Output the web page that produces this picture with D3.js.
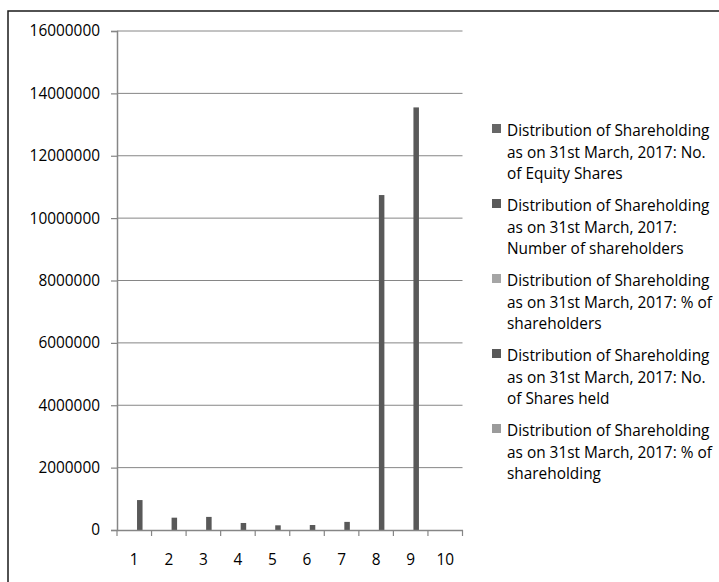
<!DOCTYPE html>
<html>
<head>
<meta charset="utf-8">
<script src="https://cdn.jsdelivr.net/npm/d3@7"></script>
<style>
  html, body { margin: 0; padding: 0; background: #ffffff; }
  svg { display: block; }
  text { font-family: "Open Sans", "Noto Sans", sans-serif; fill: #000; }
</style>
</head>
<body>
<svg id="chart" width="719" height="582"></svg>
<script>
// ---- data ----
const categories = ["1", "2", "3", "4", "5", "6", "7", "8", "9", "10"];
const seriesNames = [
  "Distribution of Shareholding as on 31st March, 2017: No. of Equity Shares",
  "Distribution of Shareholding as on 31st March, 2017: Number of shareholders",
  "Distribution of Shareholding as on 31st March, 2017: % of shareholders",
  "Distribution of Shareholding as on 31st March, 2017: No. of Shares held",
  "Distribution of Shareholding as on 31st March, 2017: % of shareholding"
];
const legendLines = [
  ["Distribution of Shareholding", "as on 31st March, 2017: No.", "of Equity Shares"],
  ["Distribution of Shareholding", "as on 31st March, 2017:", "Number of shareholders"],
  ["Distribution of Shareholding", "as on 31st March, 2017: % of", "shareholders"],
  ["Distribution of Shareholding", "as on 31st March, 2017: No.", "of Shares held"],
  ["Distribution of Shareholding", "as on 31st March, 2017: % of", "shareholding"]
];
const equityShares      = [0, 0, 0, 0, 0, 0, 0, 0, 0, 0];
const numShareholders   = [0, 0, 0, 0, 0, 0, 0, 0, 0, 0];
const pctShareholders   = [0, 0, 0, 0, 0, 0, 0, 0, 0, 0];
const sharesHeld        = [960000, 395000, 420000, 225000, 150000, 160000, 260000, 10740000, 13550000, 0];
const pctShareholding   = [0, 0, 0, 0, 0, 0, 0, 0, 0, 0];
const yTicks = [0, 2000000, 4000000, 6000000, 8000000, 10000000, 12000000, 14000000, 16000000];
const seriesColors = ["#666666", "#5a5a5a", "#a5a5a5", "#595959", "#9b9b9b"];

const seriesValues = [equityShares, numShareholders, pctShareholders, sharesHeld, pctShareholding];

// ---- layout ----
const svg = d3.select("#chart");
const plot = { left: 117, right: 462.5, top: 31, bottom: 530 };
const fontSize = 15.4;

// outer frame
svg.append("rect")
  .attr("x", 8).attr("y", 11)
  .attr("width", 740).attr("height", 600)
  .attr("fill", "none").attr("stroke", "#1a1a1a").attr("stroke-width", 1.5);

const x0 = d3.scaleBand().domain(categories).range([plot.left, plot.right]).paddingInner(0).paddingOuter(0);
const x1 = d3.scaleBand().domain(d3.range(seriesNames.length)).range([0, x0.bandwidth()]).paddingInner(0).paddingOuter(0.636);
const y = d3.scaleLinear().domain([0, 16000000]).range([plot.bottom, plot.top]);

// gridlines
svg.append("g").selectAll("line").data(yTicks.filter(d => d > 0)).join("line")
  .attr("x1", plot.left).attr("x2", plot.right)
  .attr("y1", d => y(d)).attr("y2", d => y(d))
  .attr("stroke", "#868686").attr("stroke-width", 1);

// bars
const bars = [];
categories.forEach((c, ci) => {
  seriesValues.forEach((vals, si) => bars.push({ c, si, v: vals[ci] }));
});
svg.append("g").selectAll("rect").data(bars.filter(d => d.v > 0)).join("rect")
  .attr("x", d => x0(d.c) + x1(d.si))
  .attr("width", x1.bandwidth())
  .attr("y", d => y(d.v))
  .attr("height", d => y(0) - y(d.v))
  .attr("fill", d => seriesColors[d.si]);

// y axis
const yAxis = d3.axisLeft(y).tickValues(yTicks).tickFormat(d3.format("d")).tickSize(6).tickPadding(11);
const gy = svg.append("g").attr("transform", `translate(${plot.left},0)`).call(yAxis);
gy.select(".domain").attr("stroke", "#868686").attr("stroke-width", 1.5);
gy.selectAll(".tick line").attr("stroke", "#868686").attr("stroke-width", 1.2);
gy.selectAll(".tick text").attr("font-size", fontSize).attr("font-family", "Open Sans").attr("fill", "#000");

// x axis
const xAxis = d3.axisBottom(x0).tickSize(0).tickPadding(0);
const gx = svg.append("g").attr("transform", `translate(0,${plot.bottom})`).call(xAxis);
gx.select(".domain").attr("stroke", "#868686").attr("stroke-width", 1.5);
gx.selectAll(".tick text").attr("font-size", fontSize).attr("font-family", "Open Sans").attr("fill", "#000")
  .attr("dy", null).attr("y", 35);
// boundary ticks
const bounds = categories.map(c => x0(c)).concat([plot.right]);
svg.append("g").selectAll("line").data(bounds).join("line")
  .attr("x1", d => d).attr("x2", d => d)
  .attr("y1", plot.bottom).attr("y2", plot.bottom + 6)
  .attr("stroke", "#868686").attr("stroke-width", 1.2);

// legend
const lg = svg.append("g");
legendLines.forEach((lines, i) => {
  const base = 136 + i * 75;
  lg.append("rect")
    .attr("x", 492).attr("y", base - 12).attr("width", 9).attr("height", 9)
    .attr("fill", seriesColors[i]);
  lines.forEach((ln, li) => {
    lg.append("text")
      .attr("x", 507).attr("y", base + li * 21.5)
      .attr("font-size", fontSize)
      .text(ln);
  });
});
</script>
</body>
</html>
